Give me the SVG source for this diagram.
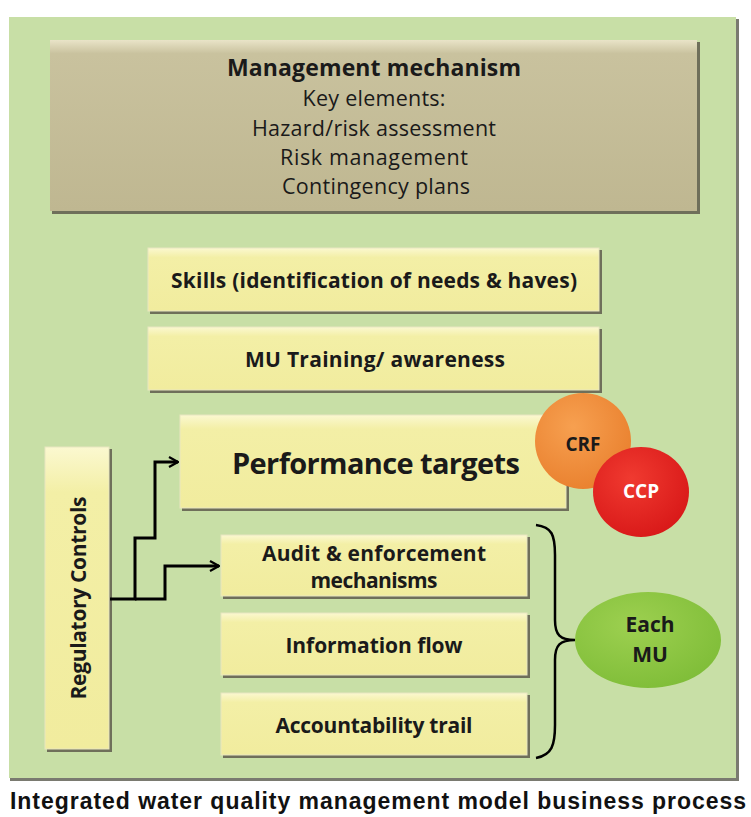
<svg xmlns="http://www.w3.org/2000/svg" width="751" height="817" viewBox="0 0 751 817">
<style>
.t{font-family:"Open Sans","Noto Sans","Liberation Sans",sans-serif;fill:#1a1a1a;text-anchor:middle}
.b{font-weight:bold}
.box{fill:url(#yel);stroke:#e8e6c0;stroke-width:1}
.sh{fill:#6f6f5a}
.con{fill:none;stroke:#000;stroke-width:3}
</style>
<defs>
<linearGradient id="yel" x1="0" y1="0" x2="0" y2="1">
<stop offset="0" stop-color="#fbf8d0"/><stop offset="0.15" stop-color="#f3efa6"/><stop offset="1" stop-color="#f1ec9e"/>
</linearGradient>
<linearGradient id="tau" x1="0" y1="0" x2="0" y2="1">
<stop offset="0" stop-color="#e9e4c8"/><stop offset="0.08" stop-color="#c9c29e"/><stop offset="1" stop-color="#bfb791"/>
</linearGradient>
<radialGradient id="org" cx="0.4" cy="0.35" r="0.7"><stop offset="0" stop-color="#f7a050"/><stop offset="1" stop-color="#e9802e"/></radialGradient>
<radialGradient id="red" cx="0.4" cy="0.35" r="0.7"><stop offset="0" stop-color="#f03a30"/><stop offset="1" stop-color="#d81818"/></radialGradient>
<radialGradient id="grn" cx="0.4" cy="0.35" r="0.7"><stop offset="0" stop-color="#9dd050"/><stop offset="1" stop-color="#7fbd38"/></radialGradient>
<marker id="ar" viewBox="0 0 12 12" refX="11" refY="6" markerWidth="12" markerHeight="12" markerUnits="userSpaceOnUse" orient="auto">
<path d="M2,1 L11,6 L2,11" fill="none" stroke="#000" stroke-width="2.2"/>
</marker>
</defs>
<rect width="751" height="817" fill="#ffffff"/>
<g id="panel">
<rect x="10" y="19" width="729" height="762" fill="#7a7a70"/>
<rect x="9" y="17" width="727" height="761" fill="#c8dfa6"/>
</g>
<g id="management">
<rect x="52" y="42" width="648" height="172" class="sh"/>
<rect x="50" y="40" width="647" height="171" fill="url(#tau)"/>
<text class="t b" x="374" y="76" font-size="23" textLength="294">Management mechanism</text>
<text class="t" x="374" y="106" font-size="21.5" textLength="143">Key elements:</text>
<text class="t" x="374" y="136" font-size="21.5" textLength="244">Hazard/risk assessment</text>
<text class="t" x="374" y="165" font-size="21.5" textLength="188">Risk management</text>
<text class="t" x="376" y="194" font-size="21.5" textLength="188">Contingency plans</text>
</g>
<g id="skills">
<rect x="150" y="250" width="452" height="64" class="sh"/>
<rect x="148" y="248" width="451" height="63" class="box"/>
<text class="t b" x="374" y="288" font-size="21" textLength="406">Skills (identification of needs &amp; haves)</text>
</g>
<g id="training">
<rect x="150" y="329" width="452" height="64" class="sh"/>
<rect x="148" y="327" width="451" height="63" class="box"/>
<text class="t b" x="375" y="367" font-size="21" textLength="260">MU Training/ awareness</text>
</g>
<g id="performance">
<rect x="182" y="417" width="387" height="94" class="sh"/>
<rect x="180" y="415" width="386" height="93" class="box"/>
<text class="t b" x="376" y="474" font-size="29" textLength="288">Performance targets</text>
</g>
<g id="audit">
<rect x="223" y="537" width="307" height="62" class="sh"/>
<rect x="221" y="535" width="306" height="61" class="box"/>
<text class="t b" x="374" y="561" font-size="21" textLength="224">Audit &amp; enforcement</text>
<text class="t b" x="374" y="588" font-size="21" textLength="127">mechanisms</text>
</g>
<g id="information">
<rect x="223" y="615" width="307" height="63" class="sh"/>
<rect x="221" y="613" width="306" height="62" class="box"/>
<text class="t b" x="374" y="653" font-size="21" textLength="177">Information flow</text>
</g>
<g id="accountability">
<rect x="223" y="695" width="307" height="63" class="sh"/>
<rect x="221" y="693" width="306" height="62" class="box"/>
<text class="t b" x="374" y="733" font-size="21" textLength="197">Accountability trail</text>
</g>
<g id="regulatory">
<rect x="47" y="449" width="65" height="303" class="sh"/>
<rect x="45" y="447" width="64" height="302" class="box"/>
<text class="t b" x="0" y="0" font-size="21" textLength="203" transform="translate(86,598) rotate(-90)">Regulatory Controls</text>
</g>
<g id="crf">
<circle cx="583" cy="441" r="48" fill="url(#org)"/>
<text class="t b" x="583" y="451" font-size="19">CRF</text>
</g>
<g id="ccp">
<ellipse cx="641" cy="492" rx="48" ry="45" fill="url(#red)"/>
<text x="641" y="498" font-size="19" font-weight="bold" font-family="Open Sans,Noto Sans,sans-serif" text-anchor="middle" fill="#ffffff" style="fill:#ffffff">CCP</text>
</g>
<g id="eachmu">
<ellipse cx="648" cy="640" rx="73" ry="48" fill="url(#grn)"/>
<text class="t b" x="650" y="632" font-size="21">Each</text>
<text class="t b" x="650" y="662" font-size="21">MU</text>
</g>
<g id="connectors">
<path class="con" d="M110,599 H135 V538 H155 V462 H178" marker-end="url(#ar)"/>
<path class="con" d="M135,599 H165 V566 H219" marker-end="url(#ar)"/>
<path fill="none" stroke="#000" stroke-width="2.5" d="M536,525 C552,527 555,535 555,555 V620 C555,635 560,640 575,640 C560,640 555,645 555,660 V725 C555,745 552,755 536,758"/>
</g>
<g id="caption">
<text x="378" y="809" font-family="Liberation Sans,Arial,sans-serif" font-weight="bold" font-size="23" text-anchor="middle" fill="#111" textLength="736">Integrated water quality management model business process</text>
</g>
</svg>
